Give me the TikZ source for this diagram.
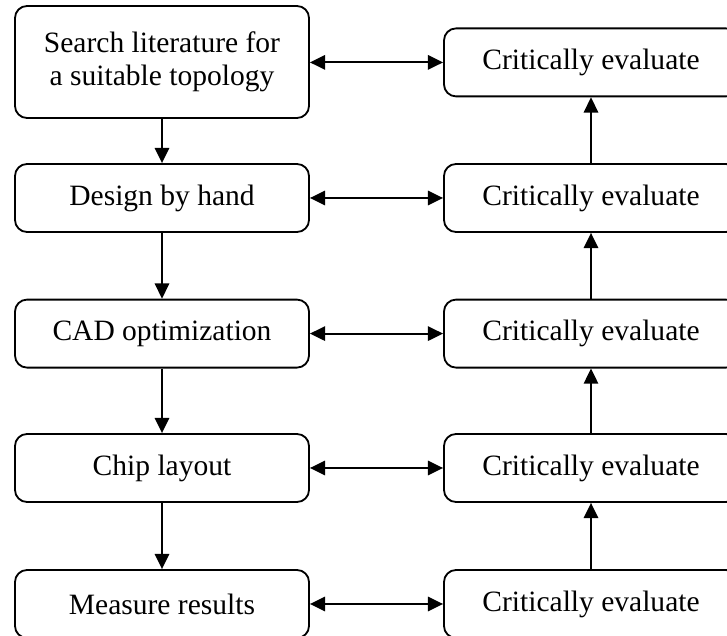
\documentclass[tikz,border=0pt]{standalone}
\usepackage{fontspec}
\setmainfont{Liberation Serif}
\usetikzlibrary{arrows.meta}

\begin{document}
\begin{tikzpicture}[
    box/.style={rectangle, draw, line width=1.3pt, rounded corners=0.3cm,
                minimum width=7.35cm, minimum height=1.7cm, align=center,
                inner sep=0pt, font=\fontsize{21}{23.5}\selectfont},
    arrow/.style={-{Triangle[length=0.38cm,width=0.36cm]}, line width=1.3pt},
    twoway/.style={{Triangle[length=0.38cm,width=0.36cm]}-{Triangle[length=0.38cm,width=0.36cm]}, line width=1.3pt}
]
\useasboundingbox (0,0) rectangle (18.175,15.9);
% left column
\node[box, minimum height=2.8cm] (search) at (4.05,14.35) {Search literature for\\a suitable topology};
\node[box] (hand) at (4.05,10.95) {Design by hand};
\node[box] (cad) at (4.05,7.56) {CAD optimization};
\node[box] (chip) at (4.05,4.2) {Chip layout};
\node[box] (meas) at (4.05,0.8) {Measure results};
% right column
\node[box] (eval1) at (14.775,14.34) {Critically evaluate};
\node[box] (eval2) at (14.775,10.95) {Critically evaluate};
\node[box] (eval3) at (14.775,7.56) {Critically evaluate};
\node[box] (eval4) at (14.775,4.2) {Critically evaluate};
\node[box] (eval5) at (14.775,0.8) {Critically evaluate};
% flow
\draw[arrow] (search) -- (hand);
\draw[arrow] (hand) -- (cad);
\draw[arrow] (cad) -- (chip);
\draw[arrow] (chip) -- (meas);
\draw[arrow] (eval5) -- (eval4);
\draw[arrow] (eval4) -- (eval3);
\draw[arrow] (eval3) -- (eval2);
\draw[arrow] (eval2) -- (eval1);
% feedback
\draw[twoway] (search.east |- eval1) -- (eval1);
\draw[twoway] (hand) -- (eval2);
\draw[twoway] (cad) -- (eval3);
\draw[twoway] (chip) -- (eval4);
\draw[twoway] (meas) -- (eval5);
\end{tikzpicture}
\end{document}
